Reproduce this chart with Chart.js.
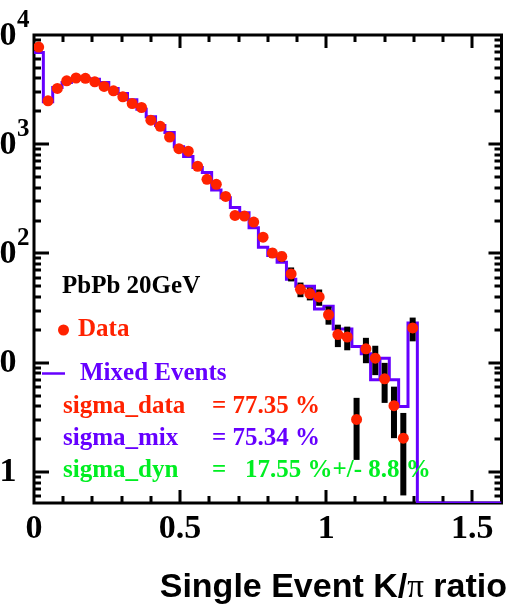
<!DOCTYPE html>
<html>
<head>
<meta charset="utf-8">
<script src="https://cdn.jsdelivr.net/npm/chart.js@4.4.1/dist/chart.umd.min.js"></script>
<style>
  html, body { margin: 0; padding: 0; background: #fff; }
  #wrap { width: 507px; height: 608px; }
</style>
</head>
<body>
<div id="wrap"><canvas id="kpi" width="507" height="608"></canvas></div>
<script>
// Single event K/pi ratio: 50 bins of 0.032 between 0 and 1.6
const binWidth = 0.032;
const binLow = [
    0.000, 0.032, 0.064, 0.096, 0.128, 0.160, 0.192, 0.224, 0.256, 0.288,
    0.320, 0.352, 0.384, 0.416, 0.448, 0.480, 0.512, 0.544, 0.576, 0.608,
    0.640, 0.672, 0.704, 0.736, 0.768, 0.800, 0.832, 0.864, 0.896, 0.928,
    0.960, 0.992, 1.024, 1.056, 1.088, 1.120, 1.152, 1.184, 1.216, 1.248,
    1.280, 1.312, 1.344, 1.376, 1.408, 1.440, 1.472, 1.504, 1.536, 1.568
];

// Measured events (only the first 41 bins are filled)
const dataCounts = [
    7760, 2495, 3240, 3810, 4040, 4010, 3730, 3380, 3080, 2720,
    2360, 2170, 1660, 1460, 1165, 910, 863, 629, 477, 430,
    333, 223, 220, 194, 141, 101, 94, 65, 47, 43,
    40, 27.5, 18.1, 17.2, 3.03, 13.4, 11.0, 7.13, 4.04, 2.04,
    20.8
];
const dataErrors = [
    88, 50, 57, 62, 64, 63, 61, 58, 56, 52,
    49, 47, 41, 38, 34, 30, 29, 25, 22, 21,
    18, 15, 15, 14, 12, 10, 9.7, 9.5, 7.2, 5.8,
    6.8, 5.2, 4.2, 4.2, 1.74, 3.5, 3.3, 2.84, 2.0, 1.43,
    5.1
];

// Mixed events histogram
const mixedCounts = [
    6930, 2455, 3300, 3680, 3945, 3990, 3945, 3680, 3240, 2920,
    2560, 2095, 1785, 1485, 1280, 950, 771, 611, 550, 381,
    324, 263, 236, 172, 114, 96, 83, 58, 50, 50,
    31.1, 32.9, 20.4, 20.4, 14.1, 12.1, 6.98, 11.0, 6.98, 3.97,
    23.1, 0, 0, 0, 0, 0, 0, 0, 0, 0
];

const xMin = 0, xMax = 1.6;
const yMin = 0.52, yMax = 10000;

const xTicks = [0, 0.5, 1, 1.5];
const xTickText = ['0', '0.5', '1', '1.5'];
const yDecades = [1, 10, 100, 1000, 10000];
const yDecadeBase = ['1', '10', '10', '10', '10'];
const yDecadeExp = ['', '', '2', '3', '4'];

const RED = '#ff2200';
const PURPLE = '#6600ff';
const GREEN = '#00ee22';
const SERIF = '"Liberation Serif", "DejaVu Serif", serif';
const SANS = '"Liberation Sans", Arial, sans-serif';

function mixedPoints() {
    let pts = [];
    for (let i = 0; i < binLow.length; i++) {
        // empty bins sit on the bottom of the frame
        pts.push({ x: binLow[i], y: Math.max(mixedCounts[i], yMin) });
    }
    pts.push({ x: xMax, y: Math.max(mixedCounts[mixedCounts.length - 1], yMin) });
    return pts;
}

function dataPoints() {
    return dataCounts.map((v, i) => ({ x: binLow[i] + binWidth / 2, y: v }));
}

// Frame plus inward ticks on all four sides
const frameAxes = {
    id: 'frameAxes',
    beforeDatasetsDraw(chart) {
        const { ctx, chartArea: a, scales: { x, y } } = chart;
        ctx.save();
        ctx.strokeStyle = '#000';
        ctx.lineWidth = 3;
        ctx.lineCap = 'butt';
        ctx.strokeRect(a.left, a.top, a.right - a.left, a.bottom - a.top);

        ctx.beginPath();
        for (let i = 1; i <= 15; i++) {
            let px = Math.round(x.getPixelForValue(i / 10));
            let len = (i % 5 == 0) ? 13 : 7;
            ctx.moveTo(px, a.bottom);
            ctx.lineTo(px, a.bottom - len);
            ctx.moveTo(px, a.top);
            ctx.lineTo(px, a.top + len);
        }
        for (let d of [0.1, 1, 10, 100, 1000]) {
            for (let k = 1; k <= 9; k++) {
                let v = d * k;
                if (v <= yMin || v >= yMax) continue;
                let py = Math.round(y.getPixelForValue(v));
                let major = (k == 1);
                ctx.moveTo(a.left, py);
                ctx.lineTo(a.left + (major ? 15 : 7), py);
                ctx.moveTo(a.right, py);
                ctx.lineTo(a.right - (major ? 13 : 7), py);
            }
        }
        ctx.stroke();
        ctx.restore();
    },
    beforeDatasetDraw(chart, args) {
        // error bars go under the data markers
        if (args.index != 1) return;
        const { ctx, chartArea: a, scales: { x, y } } = chart;
        ctx.save();
        ctx.beginPath();
        ctx.rect(a.left, a.top, a.right - a.left, a.bottom - a.top);
        ctx.clip();
        ctx.fillStyle = '#000';
        for (let i = 0; i < dataCounts.length; i++) {
            let cx = x.getPixelForValue(binLow[i] + binWidth / 2);
            let hi = y.getPixelForValue(dataCounts[i] + dataErrors[i]);
            let lo = y.getPixelForValue(Math.max(dataCounts[i] - dataErrors[i], yMin / 2));
            ctx.fillRect(cx - 3, hi, 6, lo - hi);
        }
        ctx.restore();
    },
    afterDraw(chart) {
        const { ctx, scales: { x, y } } = chart;
        ctx.save();
        ctx.fillStyle = '#000';

        // x labels
        ctx.font = 'bold 34px ' + SERIF;
        ctx.textAlign = 'center';
        ctx.textBaseline = 'alphabetic';
        xTicks.forEach((v, i) => {
            ctx.fillText(xTickText[i], x.getPixelForValue(v), 538);
        });

        // y labels, powers of ten with raised exponent
        yDecades.forEach((v, i) => {
            let py = y.getPixelForValue(v);
            ctx.font = 'bold 34px ' + SERIF;
            ctx.textAlign = 'right';
            ctx.fillText(yDecadeBase[i], 16.5, py + 9.5);
            if (yDecadeExp[i]) {
                ctx.font = 'bold 25px ' + SERIF;
                ctx.textAlign = 'left';
                ctx.fillText(yDecadeExp[i], 17, py - 8);
            }
        });

        // axis title, right aligned to the frame
        let parts = [
            ['Single Event K/', 'bold 34px ' + SANS],
            ['\u03c0', '33px ' + SERIF],
            [' ratio', 'bold 34px ' + SANS]
        ];
        let total = 0;
        parts.forEach(p => { ctx.font = p[1]; total += ctx.measureText(p[0]).width; });
        let tx = 507 - total;
        ctx.textAlign = 'left';
        parts.forEach(p => {
            ctx.font = p[1];
            ctx.fillText(p[0], tx, 597);
            tx += ctx.measureText(p[0]).width;
        });

        // legend and numbers
        ctx.font = 'bold 25px ' + SERIF;
        ctx.fillStyle = '#000';
        ctx.fillText('PbPb 20GeV', 62, 293);

        ctx.fillStyle = RED;
        ctx.beginPath();
        ctx.arc(63.5, 330, 5.5, 0, Math.PI * 2);
        ctx.fill();
        ctx.fillText('Data', 78, 336);

        ctx.strokeStyle = PURPLE;
        ctx.lineWidth = 2.5;
        ctx.beginPath();
        ctx.moveTo(42, 373.5);
        ctx.lineTo(65, 373.5);
        ctx.stroke();
        ctx.fillStyle = PURPLE;
        ctx.fillText('Mixed Events', 80, 380);

        ctx.fillStyle = RED;
        ctx.fillText('sigma_data', 63, 412.5);
        ctx.fillText('= 77.35 %', 212, 412.5);
        ctx.fillStyle = PURPLE;
        ctx.fillText('sigma_mix', 63, 444.5);
        ctx.fillText('= 75.34 %', 212, 444.5);
        ctx.fillStyle = GREEN;
        ctx.fillText('sigma_dyn', 63, 477);
        ctx.fillText('=', 212, 477);
        ctx.fillText('17.55 %+/- 8.8 %', 245, 477);
        ctx.restore();
    }
};

new Chart(document.getElementById('kpi'), {
    type: 'line',
    data: {
        datasets: [
            {
                label: 'Mixed Events',
                data: mixedPoints(),
                borderColor: PURPLE,
                borderWidth: 3,
                stepped: 'before',
                pointRadius: 0,
                fill: false,
                order: 2
            },
            {
                label: 'Data',
                data: dataPoints(),
                showLine: false,
                pointRadius: 5.5,
                pointBackgroundColor: RED,
                pointBorderColor: RED,
                pointBorderWidth: 0,
                order: 1
            }
        ]
    },
    options: {
        responsive: false,
        animation: false,
        events: [],
        layout: {
            padding: { left: 34, top: 35, right: 1, bottom: 105 }
        },
        scales: {
            x: { type: 'linear', min: xMin, max: xMax, display: false },
            y: { type: 'logarithmic', min: yMin, max: yMax, display: false }
        },
        plugins: {
            legend: { display: false },
            tooltip: { enabled: false }
        }
    },
    plugins: [frameAxes]
});
</script>
</body>
</html>
